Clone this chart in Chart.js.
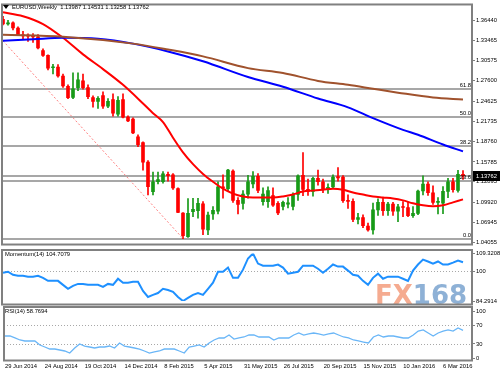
<!DOCTYPE html>
<html><head><meta charset="utf-8">
<script src="https://cdn.jsdelivr.net/npm/chart.js@4.4.1/dist/chart.umd.min.js"></script>
<style>
html,body{margin:0;padding:0;background:#fff;width:500px;height:375px;overflow:hidden}
canvas{position:absolute;left:0}
</style></head><body>
<canvas id="main" style="top:0;width:500px;height:249px" width="500" height="249"></canvas>
<canvas id="mom" style="top:249px;width:500px;height:57px" width="500" height="57"></canvas>
<canvas id="rsi" style="top:306px;width:500px;height:69px" width="500" height="69"></canvas>
<script>
// ---------- DATA ----------
const weeks = ['29 Jun 2014','6 Jul 2014','13 Jul 2014','20 Jul 2014','27 Jul 2014','3 Aug 2014','10 Aug 2014','17 Aug 2014','24 Aug 2014','31 Aug 2014',
'7 Sep 2014','14 Sep 2014','21 Sep 2014','28 Sep 2014','5 Oct 2014','12 Oct 2014','19 Oct 2014','26 Oct 2014','2 Nov 2014','9 Nov 2014',
'16 Nov 2014','23 Nov 2014','30 Nov 2014','7 Dec 2014','14 Dec 2014','21 Dec 2014','28 Dec 2014','4 Jan 2015','11 Jan 2015','18 Jan 2015',
'25 Jan 2015','1 Feb 2015','8 Feb 2015','15 Feb 2015','22 Feb 2015','1 Mar 2015','8 Mar 2015','15 Mar 2015','22 Mar 2015','29 Mar 2015',
'5 Apr 2015','12 Apr 2015','19 Apr 2015','26 Apr 2015','3 May 2015','10 May 2015','17 May 2015','24 May 2015','31 May 2015','7 Jun 2015',
'14 Jun 2015','21 Jun 2015','28 Jun 2015','5 Jul 2015','12 Jul 2015','19 Jul 2015','26 Jul 2015','2 Aug 2015','9 Aug 2015','16 Aug 2015',
'23 Aug 2015','30 Aug 2015','6 Sep 2015','13 Sep 2015','20 Sep 2015','27 Sep 2015','4 Oct 2015','11 Oct 2015','18 Oct 2015','25 Oct 2015',
'1 Nov 2015','8 Nov 2015','15 Nov 2015','22 Nov 2015','29 Nov 2015','6 Dec 2015','13 Dec 2015','20 Dec 2015','27 Dec 2015','3 Jan 2016',
'10 Jan 2016','17 Jan 2016','24 Jan 2016','31 Jan 2016','7 Feb 2016','14 Feb 2016','21 Feb 2016','28 Feb 2016','6 Mar 2016','13 Mar 2016',
'20 Mar 2016','27 Mar 2016','3 Apr 2016'];
const xTickLabels = ['29 Jun 2014','24 Aug 2014','19 Oct 2014','14 Dec 2014','8 Feb 2015','5 Apr 2015','31 May 2015','26 Jul 2015','20 Sep 2015','15 Nov 2015','10 Jan 2016','6 Mar 2016'];

const open = [1.3655,1.3590,1.3605,1.3530,1.3430,1.3415,1.3410,1.3400,1.3200,1.3130,
1.2950,1.2960,1.2830,1.2680,1.2517,1.2660,1.2760,1.2660,1.2517,1.2460,
1.2545,1.2390,1.2488,1.2275,1.2488,1.2232,1.2203,1.1946,1.1860,1.1575,
1.1147,1.1290,1.1290,1.1400,1.1390,1.1190,1.0833,1.0490,1.0855,1.0870,
1.0970,1.0590,1.0820,1.0861,1.1210,1.1190,1.1446,1.1018,1.0975,1.1110,
1.1260,1.1370,1.1000,1.1000,1.1090,1.0975,1.0930,1.0965,1.0930,1.1105,
1.1385,1.1180,1.1150,1.1340,1.1290,1.1190,1.1215,1.1365,1.1360,1.1015,
1.1005,1.0740,1.0770,1.0645,1.0590,1.0880,1.0990,1.0870,1.0965,1.0860,
1.0925,1.0915,1.0795,1.0830,1.1155,1.1255,1.1130,1.0990,1.0980,1.1150,
1.1290,1.1165,1.13987];
const high = [1.3700,1.3640,1.3620,1.3545,1.3480,1.3445,1.3450,1.3435,1.3225,1.3140,
1.3000,1.2995,1.2860,1.2700,1.2875,1.2875,1.2860,1.2700,1.2540,1.2530,
1.2600,1.2500,1.2570,1.2530,1.2570,1.2250,1.2220,1.1975,1.1870,1.1600,
1.1430,1.1430,1.1440,1.1430,1.1410,1.1200,1.0840,1.1045,1.1050,1.1050,
1.1000,1.0850,1.0930,1.1290,1.1390,1.1470,1.1465,1.1060,1.1160,1.1385,
1.1440,1.1410,1.1200,1.1215,1.1200,1.1000,1.1010,1.1060,1.1130,1.1390,
1.1714,1.1330,1.1360,1.1460,1.1330,1.1260,1.1390,1.1495,1.1380,1.1100,
1.1040,1.0830,1.0810,1.0690,1.0980,1.1040,1.1060,1.0990,1.0990,1.0960,
1.1000,1.0990,1.0930,1.1170,1.1375,1.1290,1.1230,1.1060,1.1220,1.1340,
1.1340,1.1455,1.14531];
const low = [1.3575,1.3570,1.3500,1.3420,1.3365,1.3335,1.3320,1.3225,1.3115,1.2920,
1.2860,1.2815,1.2665,1.2500,1.2500,1.2615,1.2640,1.2500,1.2375,1.2360,
1.2360,1.2370,1.2245,1.2245,1.2220,1.2165,1.1990,1.1800,1.1460,1.1100,
1.1100,1.1260,1.1270,1.1300,1.1180,1.0840,1.0462,1.0480,1.0780,1.0760,
1.0520,1.0520,1.0740,1.0820,1.1050,1.1150,1.0990,1.0820,1.0890,1.1050,
1.1200,1.1130,1.0950,1.0915,1.0930,1.0810,1.0880,1.0910,1.0880,1.1020,
1.1086,1.1090,1.1080,1.1240,1.1130,1.1120,1.1190,1.1300,1.0990,1.0900,
1.0710,1.0675,1.0620,1.0570,1.0525,1.0800,1.0800,1.0800,1.0800,1.0710,
1.0780,1.0780,1.0770,1.0810,1.1100,1.1090,1.0960,1.0820,1.0825,1.1060,
1.1140,1.1140,1.13258];
const close = [1.3590,1.3605,1.3530,1.3430,1.3415,1.3410,1.3400,1.3240,1.3130,1.2945,
1.2960,1.2830,1.2685,1.2515,1.2645,1.2775,1.2660,1.2530,1.2460,1.2505,
1.2390,1.2460,1.2290,1.2475,1.2232,1.2175,1.2003,1.1832,1.1575,1.1218,
1.1290,1.1320,1.1405,1.1380,1.1200,1.0845,1.0505,1.0830,1.0890,1.0975,
1.0600,1.0805,1.0875,1.1218,1.1200,1.1461,1.1018,1.0960,1.1110,1.1290,
1.1370,1.1165,1.1110,1.1160,1.0950,1.0835,1.0990,1.0985,1.1100,1.1375,
1.1180,1.1150,1.1340,1.1290,1.1190,1.1210,1.1360,1.1345,1.1015,1.1005,
1.0740,1.0770,1.0650,1.0590,1.0880,1.0990,1.0870,1.0965,1.0860,1.0925,
1.0915,1.0795,1.0830,1.1155,1.1255,1.1130,1.0990,1.1000,1.1150,1.1290,
1.1175,1.1400,1.13762];

// moving averages: [week index, price]
const maRed = [[0,1.3758],[4,1.3701],[8,1.3587],[12,1.3387],[16,1.3145],[20,1.2931],[24,1.2702],[28,1.2431],[30,1.2289],[32,1.2160],
[34,1.1932],[36,1.1718],[38,1.1546],[40,1.1404],[42,1.1290],[44,1.1190],[46,1.1118],[48,1.1076],[50,1.1061],[52,1.1061],[54,1.1061],
[56,1.1076],[58,1.1104],[60,1.1147],[62,1.1161],[64,1.1175],[66,1.1190],[68,1.1175],[70,1.1133],[72,1.1104],[74,1.1076],[76,1.1061],
[78,1.1047],[80,1.1019],[82,1.0976],[84,1.0947],[86,1.0933],[88,1.0947],[90,1.0990],[92,1.1033]];
const maBlue = [[0,1.3344],[6,1.3366],[12,1.3387],[19,1.3373],[26,1.3302],[33,1.3188],[40,1.3045],[49,1.2816],[56,1.2674],[63,1.2502],
[69,1.2374],[74,1.2217],[80,1.2046],[83,1.1975],[88,1.1832],[92,1.1732]];
const maBrown = [[0,1.3430],[12,1.3402],[26,1.3302],[33,1.3216],[40,1.3116],[49,1.2945],[56,1.2874],[63,1.2759],[69,1.2702],[74,1.2645],
[79,1.2588],[86,1.2517],[92,1.2488]];
const trendLine = [[0,1.3343],[36,1.0462]];

const fibLevels = [1.2644,1.2228,1.1811,1.1295,1.0462];
const fibNames = ['61.8','50.0','38.2','23.6','0.0'];
const lastPrice = 1.13762;
const priceTicks = [1.36440,1.33465,1.30575,1.27600,1.24625,1.21735,1.18760,1.15785,1.12895,1.09920,1.06945,1.04055];

const momentum = [99.2,99.7,98.1,97.6,97.6,97.1,97.1,97.6,96.5,94.9,
94.9,94.9,92.8,90.7,92.3,93.3,93.3,92.8,92.8,92.8,
91.7,93.3,92.8,96.0,93.9,93.9,94.4,94.4,89.6,86.4,
87.5,88.5,90.7,90.1,89.1,86.4,84.29,85.9,87.5,88.5,
87.5,90.7,93.9,99.7,99.7,101.9,96.5,96.5,100.8,106.7,
109.32,104.0,102.9,102.9,102.9,103.5,101.9,98.7,99.2,99.7,
102.9,102.9,102.9,101.3,99.2,101.3,103.5,102.4,102.4,100.3,
98.1,97.6,94.9,92.8,96.5,98.7,96.0,97.1,97.1,97.1,
96.0,94.9,100.3,103.5,106.1,105.1,104.0,105.1,103.5,103.5,
104.5,105.6,104.7079];
const momTicks = [109.3208,100,84.2914];

const rsi = [46.8,46.8,42.6,38.3,36.2,36.2,36.2,27.7,23.4,19.1,
19.1,17.0,14.9,10.6,21.3,29.8,25.5,23.4,21.3,23.4,
23.4,25.5,21.3,31.9,25.5,23.4,21.3,19.1,14.9,10.6,
12.8,14.9,19.1,19.1,19.1,14.9,10.6,23.4,25.5,27.7,
23.4,31.9,38.3,42.6,42.6,48.9,40.4,42.6,44.7,48.9,
48.9,44.7,44.7,44.7,38.3,42.6,42.6,42.6,48.9,53.2,
48.9,51.1,53.2,51.1,48.9,51.1,53.2,48.9,44.7,42.6,
38.3,36.2,34.0,31.9,44.7,48.9,44.7,46.8,46.8,44.7,
42.6,42.6,48.9,57.4,59.6,53.2,46.8,53.2,57.4,59.6,
57.4,63.8,58.7694];
const rsiTicks = [100,70,30,0];

// ---------- STYLE ----------
const FONT = "'Liberation Sans', Arial, sans-serif";
const FS = 5.8;
const BULL = '#179a17', BEAR = '#ff0000';
const FRAME = '#808080';

function xScale(show) {
  return {type:'linear', min:-0.2, max:93.8, offset:false, display:show,
    grid:{display:false, drawTicks:false}, border:{display:false},
    ticks:{display:show, align:'start', autoSkip:false, maxRotation:0, minRotation:0, padding:5,
      color:'#000', font:{family:FONT, size:FS}, callback:v => weeks[v] || ''},
    afterBuildTicks: s => { s.ticks = xTickLabels.map(l => ({value: weeks.indexOf(l)})); },
    afterFit: s => { if (show) s.height = 17; }};
}
function yScale(min, max, ticks, fmt) {
  return {position:'right', min, max,
    afterBuildTicks: s => { s.ticks = ticks.map(v => ({value:v})); },
    afterFit: s => { s.width = 28; },
    grid:{drawOnChartArea:false, drawTicks:true, tickLength:3, color:FRAME},
    border:{display:false},
    ticks:{autoSkip:false, padding:1, color:'#000', font:{family:FONT, size:FS}, callback: fmt}};
}
const baseOpts = {responsive:false, animation:false, devicePixelRatio:1,
  plugins:{legend:{display:false}, tooltip:{enabled:false}}, events:[]};

function frame(ctx, l, t, r, b) {
  ctx.save(); ctx.strokeStyle = FRAME; ctx.lineWidth = 2;
  ctx.strokeRect(l, t, r - l, b - t); ctx.restore();
}

// ---------- MAIN PRICE PANEL ----------
const mainPlugin = {
  id:'mainDeco',
  beforeDatasetsDraw(chart) {
    const {ctx, chartArea:a, scales:{y}} = chart;
    ctx.save(); ctx.strokeStyle = '#8a8a8a'; ctx.lineWidth = 1.5;
    [...fibLevels, lastPrice].forEach(v => {
      const py = Math.round(y.getPixelForValue(v));
      ctx.beginPath(); ctx.moveTo(a.left, py); ctx.lineTo(a.right, py); ctx.stroke();
    });
    ctx.restore();
  },
  afterDraw(chart) {
    const {ctx, chartArea:a, scales:{y}} = chart;
    frame(ctx, a.left, a.top, a.right, a.bottom);
    ctx.save();
    ctx.font = FS + 'px ' + FONT; ctx.fillStyle = '#000';
    ctx.textAlign = 'right'; ctx.textBaseline = 'bottom';
    fibLevels.forEach((v, i) => {
      const py = Math.round(y.getPixelForValue(v));
      ctx.fillText(fibNames[i], a.right - 1, py - 1);
    });
    // title
    ctx.textAlign = 'left'; ctx.textBaseline = 'middle';
    ctx.beginPath(); ctx.moveTo(3, 5); ctx.lineTo(9, 5); ctx.lineTo(6, 9); ctx.closePath(); ctx.fill();
    const n = open.length - 1;
    ctx.fillText('EURUSD,Weekly  ' + open[n].toFixed(5) + ' ' + high[n].toFixed(5) + ' ' +
      low[n].toFixed(5) + ' ' + close[n].toFixed(5), 12, 7.5);
    // last price tag
    const py = Math.round(y.getPixelForValue(lastPrice));
    ctx.fillStyle = '#000'; ctx.fillRect(a.right + 1, py - 5, 28, 10);
    ctx.fillStyle = '#fff'; ctx.fillText(lastPrice.toFixed(5), a.right + 4, py + 0.5);
    ctx.restore();
  }
};

const pairs = arr => arr.map(p => ({x:p[0], y:p[1]}));
const candleColors = close.map((c, i) => c >= open[i] ? BULL : BEAR);

new Chart(document.getElementById('main'), {
  type:'bar',
  data:{datasets:[
    {type:'line', data:pairs(maBrown), borderColor:'#a0522d', borderWidth:2, pointRadius:0, cubicInterpolationMode:'monotone', order:1},
    {type:'line', data:pairs(maBlue), borderColor:'#0000ff', borderWidth:2, pointRadius:0, cubicInterpolationMode:'monotone', order:1},
    {type:'line', data:pairs(maRed), borderColor:'#ff0000', borderWidth:2, pointRadius:0, cubicInterpolationMode:'monotone', order:1},
    {type:'line', data:pairs(trendLine), borderColor:'#ff8080', borderWidth:1, borderDash:[2,2], pointRadius:0, order:2},
    {type:'bar', data:weeks.map((w, i) => ({x:i, y:[low[i], high[i]]})), backgroundColor:candleColors, barThickness:1, grouped:false, order:4},
    {type:'bar', data:weeks.map((w, i) => ({x:i, y:[open[i], close[i]]})), backgroundColor:candleColors, barThickness:3, minBarLength:1, grouped:false, order:3}
  ]},
  options:{...baseOpts, layout:{padding:{left:2, right:0, top:2, bottom:2}},
    scales:{x:xScale(false), y:yScale(1.0376, 1.3872, priceTicks, v => v.toFixed(5))}},
  plugins:[mainPlugin]
});

// ---------- MOMENTUM PANEL ----------
const momPlugin = {
  id:'momDeco',
  beforeDatasetsDraw(chart) {
    const {ctx, chartArea:a, scales:{y}} = chart;
    ctx.save();
    ctx.font = 'bold 26px "DejaVu Sans", sans-serif'; ctx.textBaseline = 'alphabetic'; ctx.textAlign = 'left';
    ctx.fillStyle = '#f5ab90'; ctx.fillText('FX', 375, 54.5);
    const w = ctx.measureText('FX').width;
    ctx.fillStyle = '#8eb1d6'; ctx.fillText('168', 375 + w, 54.5);
    ctx.strokeStyle = '#a8a8a8'; ctx.lineWidth = 1; ctx.setLineDash([1,2]);
    const py = Math.round(y.getPixelForValue(100)) + 0.5;
    ctx.beginPath(); ctx.moveTo(a.left, py); ctx.lineTo(a.right, py); ctx.stroke();
    ctx.restore();
  },
  afterDraw(chart) {
    const {ctx, chartArea:a} = chart;
    frame(ctx, a.left, 1, a.right, 55.5);
    ctx.save(); ctx.font = FS + 'px ' + FONT; ctx.fillStyle = '#000'; ctx.textBaseline = 'middle';
    ctx.fillText('Momentum(14) ' + momentum[momentum.length-1].toFixed(4), 5, 5.5);
    ctx.restore();
  }
};
new Chart(document.getElementById('mom'), {
  type:'line',
  data:{datasets:[{data:momentum.map((v, i) => ({x:i, y:v})), borderColor:'#1e90ff', borderWidth:2, pointRadius:0, tension:0}]},
  options:{...baseOpts, layout:{padding:{left:2, right:0, top:4, bottom:5}},
    scales:{x:xScale(false), y:yScale(84.2914, 109.3208, momTicks, v => v === 100 ? '100' : v.toFixed(4))}},
  plugins:[momPlugin]
});

// ---------- RSI PANEL ----------
const rsiPlugin = {
  id:'rsiDeco',
  beforeDatasetsDraw(chart) {
    const {ctx, chartArea:a, scales:{y}} = chart;
    ctx.save(); ctx.strokeStyle = '#a8a8a8'; ctx.lineWidth = 1; ctx.setLineDash([1,2]);
    [70, 30].forEach(v => {
      const py = Math.round(y.getPixelForValue(v)) + 0.5;
      ctx.beginPath(); ctx.moveTo(a.left, py); ctx.lineTo(a.right, py); ctx.stroke();
    });
    ctx.restore();
  },
  afterDraw(chart) {
    const {ctx, chartArea:a} = chart;
    frame(ctx, a.left, 1, a.right, 54.5);
    ctx.save(); ctx.font = FS + 'px ' + FONT; ctx.fillStyle = '#000'; ctx.textBaseline = 'middle';
    ctx.fillText('RSI(14) ' + rsi[rsi.length-1].toFixed(4), 5, 5.5);
    ctx.restore();
  }
};
new Chart(document.getElementById('rsi'), {
  type:'line',
  data:{datasets:[{data:rsi.map((v, i) => ({x:i, y:v})), borderColor:'#6ab6f7', borderWidth:1.3, pointRadius:0, tension:0}]},
  options:{...baseOpts, layout:{padding:{left:2, right:0, top:5, bottom:0}},
    scales:{x:xScale(true), y:yScale(0, 100, rsiTicks, v => String(v))}},
  plugins:[rsiPlugin]
});
</script>
</body></html>
